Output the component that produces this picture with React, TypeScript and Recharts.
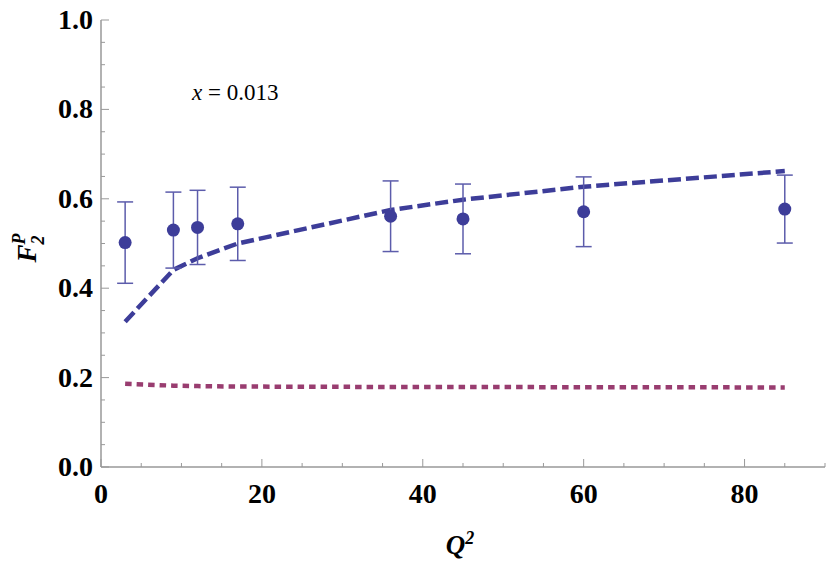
import { ComposedChart, Line, Scatter, ErrorBar, XAxis, YAxis } from 'recharts';

// Q^2 values of the measured points and the two model curves
const q2 = [3, 9, 12, 17, 36, 45, 60, 85];
const f2Data = [0.502, 0.530, 0.536, 0.544, 0.561, 0.555, 0.571, 0.577];
const f2Err = [0.091, 0.085, 0.083, 0.082, 0.079, 0.078, 0.078, 0.076];
const dashedModel = [0.325, 0.441, 0.467, 0.500, 0.575, 0.598, 0.627, 0.662];
const dottedModel = [0.186, 0.182, 0.181, 0.180, 0.179, 0.179, 0.1785, 0.178];

const xTicks = [0, 5, 10, 15, 20, 25, 30, 35, 40, 45, 50, 55, 60, 65, 70, 75, 80, 85, 90];
const yTicks = [0, 0.05, 0.1, 0.15, 0.2, 0.25, 0.3, 0.35, 0.4, 0.45, 0.5, 0.55, 0.6, 0.65, 0.7, 0.75, 0.8, 0.85, 0.9, 0.95, 1.0];

const data = q2.map((q, i) => ({
  q2: q,
  f2: f2Data[i],
  err: f2Err[i],
  dashed: dashedModel[i],
  dotted: dottedModel[i],
}));

const FRAME = '#999';
const BLUE = '#3d3d99';
const PURPLE = '#993d70';
const SERIF = '"Liberation Serif", "Times New Roman", serif';
const tickStyle = { fontFamily: SERIF, fontWeight: 'bold' as const, fontSize: 28 };

const isMajorX = (v: number) => v % 20 === 0;
const isMajorY = (v: number) => Math.abs(Math.round(v * 10) - v * 10) < 1e-6 && Math.round(v * 10) % 2 === 0;

const BottomTick = ({ x, y, payload }: any) => {
  const major = isMajorX(payload.value);
  return (
    <g>
      <line x1={x} y1={y} x2={x} y2={y - (major ? 8 : 4)} stroke={FRAME} />
      {major && (
        <text x={x} y={y + 36} textAnchor="middle" style={tickStyle} fill="#000">
          {payload.value}
        </text>
      )}
    </g>
  );
};

const TopTick = ({ x, y, payload }: any) => {
  const major = isMajorX(payload.value);
  return <line x1={x} y1={y} x2={x} y2={y + (major ? 8 : 4)} stroke={FRAME} />;
};

const LeftTick = ({ x, y, payload }: any) => {
  const major = isMajorY(payload.value);
  return (
    <g>
      <line x1={x} y1={y} x2={x + (major ? 8 : 4)} y2={y} stroke={FRAME} />
      {major && (
        <text x={x - 8} y={y + 9} textAnchor="end" style={tickStyle} fill="#000">
          {payload.value.toFixed(1)}
        </text>
      )}
    </g>
  );
};

const RightTick = ({ x, y, payload }: any) => {
  const major = isMajorY(payload.value);
  return <line x1={x} y1={y} x2={x - (major ? 8 : 4)} y2={y} stroke={FRAME} />;
};

const Dot = ({ cx, cy }: any) => <circle cx={cx} cy={cy} r={6.5} fill={BLUE} />;

// y axis title plus the in-plot annotation
const LeftLabel = () => (
  <g>
    <text
      transform="translate(36, 248) rotate(-90)"
      textAnchor="middle"
      style={{ fontFamily: SERIF, fontWeight: 'bold', fontStyle: 'italic', fontSize: 27 }}
    >
      F<tspan dy={8} style={{ fontSize: 18 }}>2</tspan>
      <tspan dx={-9} dy={-19} style={{ fontSize: 18 }}>P</tspan>
    </text>
    <text x={192} y={100} style={{ fontFamily: SERIF, fontSize: 23 }}>
      <tspan style={{ fontStyle: 'italic' }}>x</tspan> = 0.013
    </text>
  </g>
);

export default function App() {
  return (
    <div style={{ position: 'absolute', left: 0, top: 0, background: '#fff' }}>
      <ComposedChart width={830} height={569} data={data} margin={{ top: 20, right: 5, bottom: 0, left: 0 }}>
        <XAxis
          xAxisId="bottom"
          dataKey="q2"
          type="number"
          domain={[0, 90]}
          ticks={xTicks}
          interval={0}
          height={102}
          tickSize={0}
          tickMargin={0}
          tickLine={false}
          axisLine={{ stroke: FRAME, strokeWidth: 1.5 }}
          tick={<BottomTick />}
          label={{
            content: () => (
              <text x={460} y={554} textAnchor="middle" style={{ fontFamily: SERIF, fontWeight: 'bold', fontStyle: 'italic', fontSize: 27 }}>
                Q<tspan dy={-10} style={{ fontSize: 18 }}>2</tspan>
              </text>
            ),
          }}
        />
        <XAxis
          xAxisId="top"
          orientation="top"
          dataKey="q2"
          type="number"
          domain={[0, 90]}
          ticks={xTicks}
          interval={0}
          height={0}
          tickSize={0}
          tickMargin={0}
          tickLine={false}
          axisLine={{ stroke: FRAME, strokeWidth: 1.5 }}
          tick={<TopTick />}
        />
        <YAxis
          yAxisId="left"
          type="number"
          domain={[0, 1]}
          ticks={yTicks}
          interval={0}
          width={101}
          tickSize={0}
          tickMargin={0}
          tickLine={false}
          axisLine={{ stroke: FRAME, strokeWidth: 1.5 }}
          tick={<LeftTick />}
          label={{ content: () => <LeftLabel /> }}
        />
        <YAxis
          yAxisId="right"
          orientation="right"
          type="number"
          domain={[0, 1]}
          ticks={yTicks}
          interval={0}
          width={0}
          tickSize={0}
          tickMargin={0}
          tickLine={false}
          axisLine={{ stroke: FRAME, strokeWidth: 1.5 }}
          tick={<RightTick />}
        />
        <Line
          xAxisId="bottom"
          yAxisId="left"
          type="linear"
          dataKey="dotted"
          stroke={PURPLE}
          strokeWidth={4.5}
          strokeDasharray="6.5 5"
          dot={false}
          isAnimationActive={false}
        />
        <Line
          xAxisId="bottom"
          yAxisId="left"
          type="linear"
          dataKey="dashed"
          stroke={BLUE}
          strokeWidth={4.5}
          strokeDasharray="13 5"
          dot={false}
          isAnimationActive={false}
        />
        <Scatter xAxisId="bottom" yAxisId="left" dataKey="f2" shape={<Dot />} isAnimationActive={false}>
          <ErrorBar dataKey="err" direction="y" width={8} stroke="#5c5cab" strokeWidth={1.5} isAnimationActive={false} />
        </Scatter>
      </ComposedChart>
    </div>
  );
}
